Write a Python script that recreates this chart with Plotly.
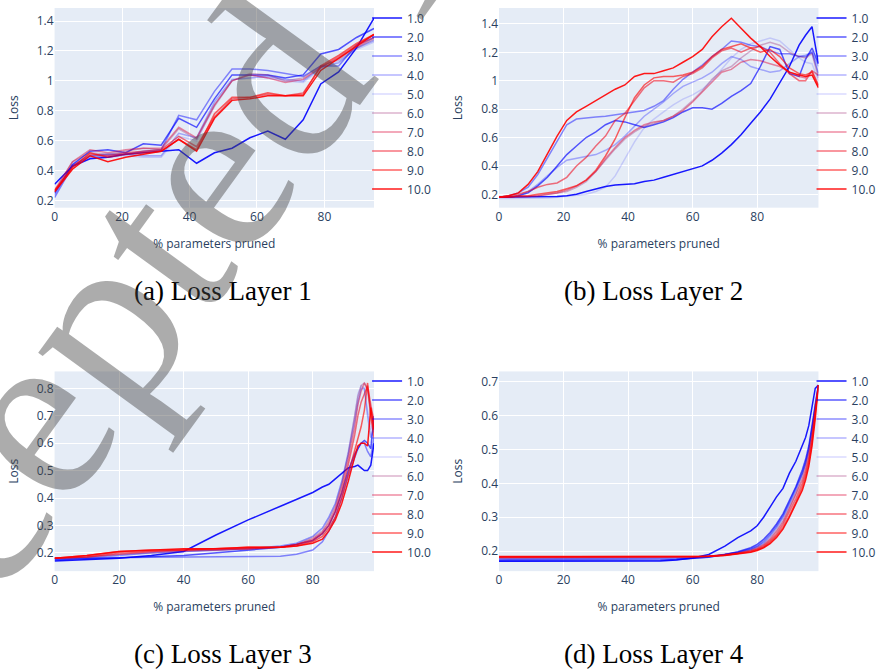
import plotly.graph_objects as go

names = ["1.0", "2.0", "3.0", "4.0", "5.0", "6.0", "7.0", "8.0", "9.0", "10.0"]
colors = ["rgba(0,0,255,0.9)", "rgba(0,0,255,0.65)", "rgba(0,0,255,0.45)", "rgba(0,0,255,0.3)",
          "rgba(0,0,255,0.15)", "rgba(140,0,90,0.3)", "rgba(220,0,50,0.45)", "rgba(240,0,20,0.55)",
          "rgba(255,0,0,0.62)", "rgba(255,0,0,0.9)"]

# ---- Layer 1 ----
x_l1 = [0, 5.3, 10.5, 15.8, 21.1, 26.3, 31.6, 36.8, 42.1, 47.4, 52.6, 57.9, 63.2, 68.4, 73.7, 78.9, 84.2, 89.5, 94.7]
l1_s1 = [.31, .43, .48, .49, .51, .52, .53, .54, .45, .52, .55, .62, .665, .61, .74, .98, 1.06, 1.22, 1.42]
l1_s2 = [.25, .44, .53, .54, .52, .58, .57, .75, .69, .88, 1.04, 1.04, 1.04, 1.02, 1.04, 1.18, 1.21, 1.29, 1.35]
l1_s3 = [.22, .43, .50, .51, .51, .53, .54, .77, .74, .93, 1.08, 1.08, 1.07, 1.05, 1.03, 1.10, 1.10, 1.24, 1.29]
l1_s4 = [.24, .44, .49, .50, .51, .50, .50, .65, .62, .86, 1.01, 1.02, 1.03, 1.01, 1.00, 1.09, 1.12, 1.22, 1.27]
l1_s5 = [.23, .45, .50, .49, .50, .49, .49, .63, .60, .84, 1.00, 1.04, 1.02, 1.00, .99, 1.08, 1.13, 1.21, 1.26]
l1_s6 = [.26, .46, .52, .51, .53, .55, .54, .68, .61, .83, 1.00, 1.05, 1.04, 1.00, 1.02, 1.10, 1.14, 1.22, 1.28]
l1_s7 = [.27, .46, .54, .52, .54, .55, .55, .69, .62, .84, 1.00, 1.04, 1.02, .99, 1.01, 1.09, 1.15, 1.23, 1.29]
l1_s8 = [.26, .43, .51, .50, .52, .53, .54, .63, .56, .76, .88, .89, .91, .90, .92, 1.09, 1.16, 1.24, 1.31]
l1_s9 = [.27, .42, .52, .49, .51, .52, .53, .61, .54, .78, .89, .89, .92, .90, .91, 1.10, 1.17, 1.25, 1.31]
l1_s10 = [.26, .41, .50, .46, .49, .51, .53, .61, .53, .75, .87, .88, .90, .90, .90, 1.07, 1.15, 1.23, 1.31]

# ---- Layer 2 ----
x_l2 = [0, 3, 6, 9, 12, 15, 18, 21, 24, 27, 30, 33, 36, 39, 42, 45, 48, 51, 54, 57, 60, 63, 66, 69, 72, 75,
        78, 81, 84, 87, 90, 93, 95, 97, 99]
l2_s1 = [.18, .18, .18, .18, .18, .18, .185, .19, .20, .22, .24, .255, .265, .27, .275, .29, .30, .32, .34, .355,
         .38, .40, .44, .49, .55, .62, .70, .78, .87, .98, 1.10, 1.25, 1.32, 1.38, 1.12]
l2_s2 = [.18, .18, .19, .21, .26, .32, .40, .48, .54, .60, .64, .69, .72, .71, .69, .67, .69, .71, .74, .78,
         .81, .81, .80, .84, .89, .93, .98, 1.10, 1.24, 1.22, 1.05, 1.03, 1.15, 1.23, 1.12]
l2_s3 = [.18, .19, .21, .25, .34, .46, .58, .69, .73, .74, .745, .75, .76, .77, .78, .79, .82, .86, .94, 1.01,
         1.06, 1.11, 1.17, 1.22, 1.28, 1.27, 1.25, 1.24, 1.21, 1.19, 1.19, 1.17, 1.17, 1.20, 1.05]
l2_s4 = [.18, .18, .19, .22, .27, .33, .39, .44, .455, .465, .48, .51, .55, .61, .68, .75, .80, .85, .91, .96,
         .99, 1.02, 1.06, 1.12, 1.17, 1.15, 1.10, 1.08, 1.06, 1.07, 1.12, 1.17, 1.18, 1.20, 1.10]
l2_s5 = [.17, .17, .17, .17, .17, .175, .18, .185, .19, .20, .22, .25, .33, .45, .57, .67, .73, .78, .83, .87,
         .90, .94, 1.00, 1.08, 1.16, 1.22, 1.26, 1.28, 1.30, 1.28, 1.22, 1.16, 1.13, 1.12, 1.00]
l2_s6 = [.18, .18, .18, .185, .19, .20, .21, .22, .25, .29, .36, .44, .52, .59, .64, .68, .70, .72, .75, .80,
         .86, .93, 1.01, 1.07, 1.10, 1.16, 1.21, 1.25, 1.27, 1.25, 1.20, 1.17, 1.16, 1.19, 1.02]
l2_s7 = [.18, .18, .18, .185, .19, .20, .21, .23, .26, .30, .36, .45, .53, .60, .65, .69, .71, .72, .75, .79,
         .85, .92, .99, 1.06, 1.08, 1.13, 1.15, 1.14, 1.12, 1.10, 1.06, 1.03, 1.02, 1.07, 1.04]
l2_s8 = [.18, .19, .20, .22, .25, .27, .28, .32, .40, .46, .54, .61, .72, .77, .86, .95, 1.00, 1.00, .99, 1.03,
         1.05, 1.09, 1.16, 1.21, 1.23, 1.20, 1.23, 1.24, 1.20, 1.12, 1.05, 1.00, 1.00, 1.07, .97]
l2_s9 = [.18, .18, .19, .19, .20, .21, .22, .24, .26, .30, .37, .47, .59, .74, .88, .97, 1.02, 1.03, 1.03, 1.04,
         1.06, 1.10, 1.17, 1.22, 1.24, 1.26, 1.23, 1.20, 1.22, 1.17, 1.09, 1.05, 1.04, 1.06, .96]
l2_s10 = [.18, .19, .21, .27, .36, .49, .61, .72, .78, .82, .86, .90, .94, .97, 1.03, 1.05, 1.05, 1.07, 1.09,
          1.13, 1.17, 1.22, 1.31, 1.38, 1.44, 1.37, 1.30, 1.24, 1.17, 1.11, 1.06, 1.04, 1.03, 1.04, .95]

# ---- Layer 3 ----
x_l3 = [0, 10, 20, 30, 40, 50, 60, 70, 75, 80, 83, 85, 87, 89, 91, 93, 94, 95, 96, 97, 98, 99]
l3_s1 = [.17, .175, .18, .19, .205, .265, .32, .37, .395, .42, .44, .45, .47, .49, .51, .515, .52, .51, .50, .50, .52, .60]
l3_s2 = [.175, .178, .182, .186, .19, .20, .21, .22, .23, .245, .27, .30, .35, .42, .50, .56, .58, .60, .61, .60, .58, .70]
l3_s3 = [.18, .18, .182, .184, .185, .185, .185, .187, .195, .21, .24, .28, .33, .40, .48, .55, .58, .60, .60, .57, .55, .62]
l3_s4 = [.175, .18, .19, .20, .205, .21, .215, .225, .235, .26, .29, .33, .38, .46, .56, .68, .75, .80, .80, .70, .62, .66]
l3_s5 = [.18, .185, .19, .20, .205, .21, .215, .225, .235, .26, .29, .33, .38, .46, .57, .70, .78, .81, .80, .72, .65, .68]
l3_s6 = [.18, .185, .195, .20, .205, .21, .215, .22, .23, .255, .28, .32, .37, .45, .56, .69, .77, .81, .82, .79, .70, .64]
l3_s7 = [.18, .185, .195, .205, .21, .21, .215, .22, .23, .25, .275, .31, .36, .44, .54, .66, .74, .79, .82, .80, .72, .66]
l3_s8 = [.18, .185, .20, .205, .21, .215, .215, .22, .23, .245, .27, .30, .35, .42, .52, .63, .70, .75, .78, .81, .74, .68]
l3_s9 = [.18, .19, .205, .21, .21, .215, .22, .22, .225, .24, .26, .29, .33, .40, .49, .58, .62, .66, .72, .82, .70, .62]
l3_s10 = [.18, .19, .205, .21, .215, .215, .22, .22, .225, .235, .25, .28, .32, .38, .46, .55, .59, .60, .60, .59, .73, .65]

# ---- Layer 4 ----
x_l4 = [0, 20, 40, 50, 55, 60, 65, 70, 74, 78, 80, 82, 84, 86, 88, 90, 92, 94, 95, 96, 97, 98, 99]
l4_s1 = [.170, .170, .170, .171, .174, .18, .19, .215, .24, .26, .275, .30, .33, .36, .385, .43, .465, .51, .535, .57, .62, .68, .69]
l4_s2 = [.172, .172, .172, .173, .175, .178, .182, .19, .198, .21, .22, .235, .255, .28, .31, .35, .39, .44, .47, .51, .57, .64, .69]
l4_s3 = [.175, .175, .175, .176, .177, .179, .183, .19, .197, .207, .215, .23, .25, .275, .305, .345, .385, .43, .46, .50, .56, .63, .69]
l4_s4 = [.177, .177, .177, .178, .179, .18, .184, .19, .196, .205, .213, .225, .245, .27, .30, .34, .38, .43, .46, .50, .56, .63, .68]
l4_s5 = [.179, .179, .179, .18, .18, .181, .184, .19, .196, .205, .212, .224, .243, .268, .297, .337, .38, .43, .46, .50, .57, .64, .69]
l4_s6 = [.18, .18, .18, .18, .181, .182, .184, .189, .195, .203, .21, .22, .238, .262, .29, .33, .37, .42, .45, .49, .55, .63, .69]
l4_s7 = [.181, .181, .181, .181, .182, .183, .185, .189, .194, .202, .208, .218, .234, .257, .285, .325, .365, .41, .44, .48, .54, .62, .69]
l4_s8 = [.182, .182, .182, .182, .183, .183, .185, .188, .193, .20, .206, .215, .23, .25, .278, .315, .355, .40, .43, .47, .53, .61, .69]
l4_s9 = [.183, .183, .183, .183, .183, .184, .185, .188, .192, .198, .204, .212, .226, .245, .27, .305, .345, .39, .42, .46, .52, .60, .69]
l4_s10 = [.184, .184, .184, .184, .184, .184, .185, .187, .191, .197, .202, .21, .222, .24, .265, .30, .34, .38, .41, .45, .51, .59, .69]

captions = ["(a) Loss Layer 1", "(b) Loss Layer 2", "(c) Loss Layer 3", "(d) Loss Layer 4"]
watermark = "Accepted Manuscript"

panels = [
    (x_l1, [l1_s1, l1_s2, l1_s3, l1_s4, l1_s5, l1_s6, l1_s7, l1_s8, l1_s9, l1_s10]),
    (x_l2, [l2_s1, l2_s2, l2_s3, l2_s4, l2_s5, l2_s6, l2_s7, l2_s8, l2_s9, l2_s10]),
    (x_l3, [l3_s1, l3_s2, l3_s3, l3_s4, l3_s5, l3_s6, l3_s7, l3_s8, l3_s9, l3_s10]),
    (x_l4, [l4_s1, l4_s2, l4_s3, l4_s4, l4_s5, l4_s6, l4_s7, l4_s8, l4_s9, l4_s10]),
]

W, H = 881, 670
def px(xp): return xp / W
def py(yp): return 1 - yp / H

xdoms = [[px(52), px(374)], [px(500), px(822)], [px(52), px(374)], [px(500), px(822)]]
ydoms = [[py(208), py(8)], [py(208), py(8)], [py(572), py(372)], [py(572), py(372)]]
xranges = [[0, 94.7], [0, 99], [0, 99], [0, 99]]
yranges = [[0.153, 1.487], [0.106, 1.512], [0.133, 0.862], [0.141, 0.730]]
ydticks = [0.2, 0.2, 0.1, 0.1]
legx = [px(367), px(815), px(367), px(815)]
legy = [py(3.5), py(3.5), py(367), py(367)]

fig = go.Figure()
for k, (xs, series) in enumerate(panels):
    sfx = "" if k == 0 else str(k + 1)
    for i, ys in enumerate(series):
        fig.add_trace(go.Scatter(
            x=xs, y=ys, mode="lines", name=names[i],
            line=dict(color=colors[i], width=1.5),
            xaxis="x" + sfx, yaxis="y" + sfx, legend="legend" + sfx,
        ))

layout = dict(
    width=W, height=H, margin=dict(l=0, r=0, t=0, b=0),
    template="plotly", paper_bgcolor="white", plot_bgcolor="#E5ECF6",
    font=dict(family="Open Sans, Arial, sans-serif", size=12, color="#2a3f5f"),
)
for k in range(4):
    sfx = "" if k == 0 else str(k + 1)
    layout["xaxis" + sfx] = dict(domain=xdoms[k], range=xranges[k], dtick=20, anchor="y" + sfx,
                                 title=dict(text="% parameters pruned", font=dict(size=12)),
                                 gridcolor="white", zeroline=False)
    layout["yaxis" + sfx] = dict(domain=ydoms[k], range=yranges[k], dtick=ydticks[k], anchor="x" + sfx,
                                 title=dict(text="Loss", font=dict(size=12)),
                                 gridcolor="white", zeroline=False)
    layout["legend" + sfx] = dict(x=legx[k], y=legy[k], xanchor="left", yanchor="top",
                                  bgcolor="rgba(0,0,0,0)", font=dict(size=12))
fig.update_layout(**layout)

cap_pos = [(px(222), py(291)), (px(656), py(291)), (px(222), py(655)), (px(656), py(655))]
for k, (cx, cy) in enumerate(cap_pos):
    fig.add_annotation(x=cx, y=cy, xref="paper", yref="paper", text=captions[k], showarrow=False,
                       xanchor="center", yanchor="middle",
                       font=dict(family="Liberation Serif, Times New Roman, serif", size=27, color="black"))

fig.add_annotation(x=px(388), y=py(-78), xref="paper", yref="paper", text=watermark, showarrow=False,
                   xanchor="center", yanchor="middle", textangle=-54,
                   font=dict(family="Liberation Serif, Times New Roman, serif", size=250,
                             color="rgba(70,70,70,0.45)"))

fig.write_html("out.html")
